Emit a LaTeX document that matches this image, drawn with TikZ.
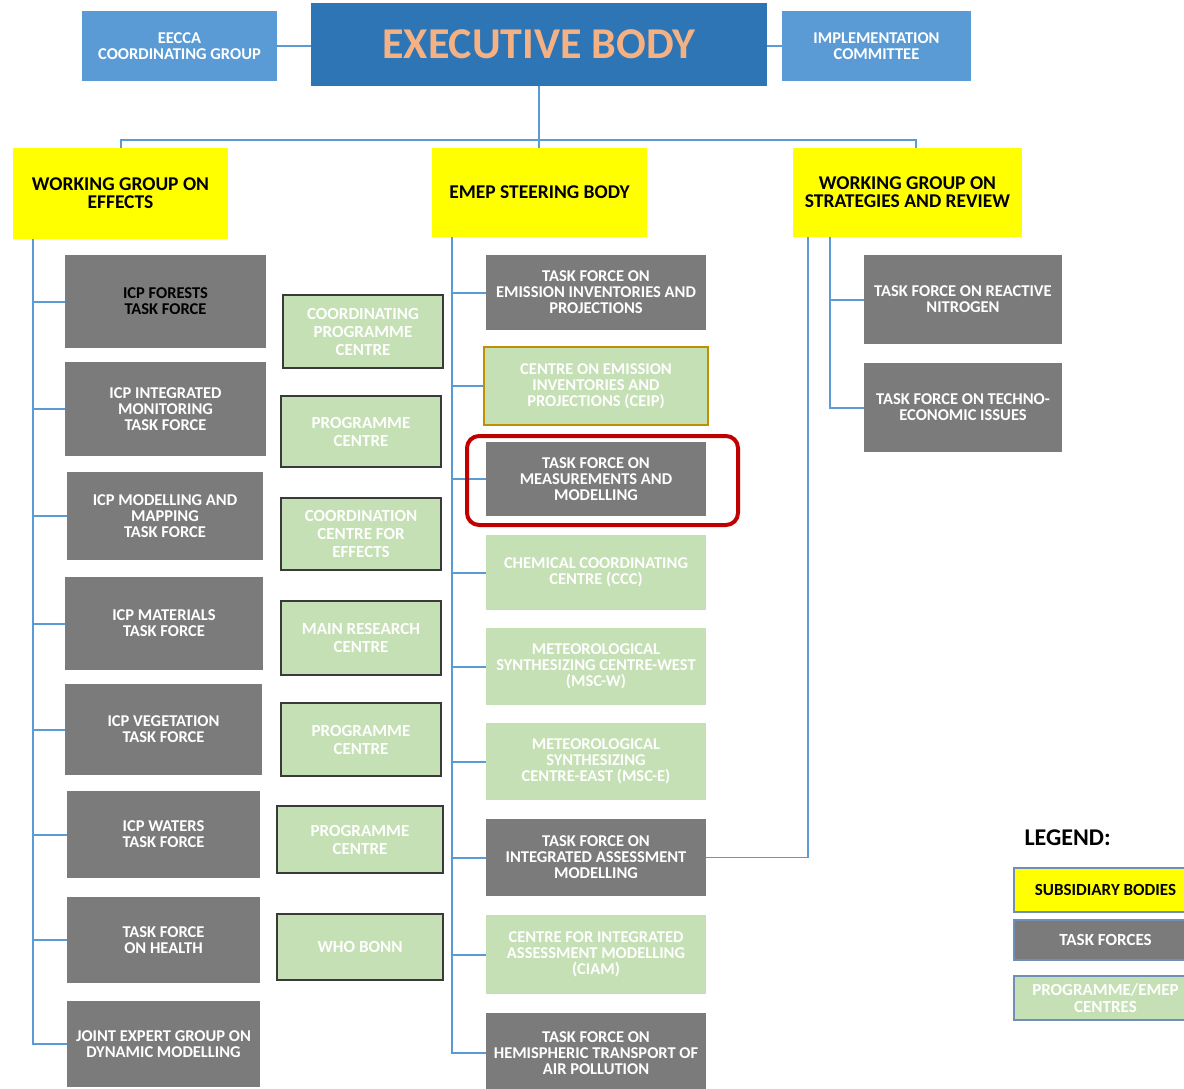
\documentclass[tikz,border=0pt]{standalone}
\usepackage{fontspec}
\setmainfont{Carlito}
\usepackage{tikz}

\definecolor{linkblue}{HTML}{5B9BD5}
\definecolor{lightblue}{HTML}{5B9BD5}
\definecolor{execblue}{HTML}{2E75B6}
\definecolor{execorange}{HTML}{F4B183}
\definecolor{sbyellow}{HTML}{FFFF00}
\definecolor{tfgray}{HTML}{7B7B7B}
\definecolor{pcgreen}{HTML}{C5E0B4}
\definecolor{pcedge}{HTML}{3A3A3A}
\definecolor{ceipedge}{HTML}{BF9000}
\definecolor{hlred}{HTML}{C00000}
\definecolor{legedge}{HTML}{6F8FB8}

\begin{document}
\begin{tikzpicture}[x=1pt, y=-1pt,
    link/.style={draw=linkblue, line width=2pt},
    box/.style={align=center, inner sep=0pt, font=\bfseries\fontsize{16.5}{16}\selectfont},
    top/.style={box, fill=lightblue, text=white},
    sb/.style={box, fill=sbyellow, text=black, font=\bfseries\fontsize{19.5}{18}\selectfont},
    tf/.style={box, fill=tfgray, text=white},
    pc/.style={box, fill=pcgreen, draw=pcedge, line width=1.5pt, text=white, font=\bfseries\fontsize{17}{18}\selectfont},
    ec/.style={box, fill=pcgreen, text=white},
    leg/.style={box, line width=1.5pt, draw=legedge, minimum width=183, font=\bfseries\fontsize{17}{17}\selectfont}]
    \useasboundingbox (0, 0) rectangle (1184, 1089);

    %% top row
    \node[top, minimum width=195, minimum height=70] (eecca) at (179.5, 46) {EECCA\\COORDINATING GROUP};
    \node[box, fill=execblue, text=execorange, minimum width=456, minimum height=83,
          font=\bfseries\fontsize{44}{48}\selectfont] (exec) at (539, 44.5) {EXECUTIVE BODY};
    \node[top, minimum width=189, minimum height=70] (impl) at (876.5, 46) {IMPLEMENTATION\\COMMITTEE};
    \draw[link] (eecca.east) -- (eecca.east -| exec.west);
    \draw[link] (impl.west) -- (impl.west -| exec.east);

    %% subsidiary bodies
    \node[sb, minimum width=215, minimum height=91] (wge) at (120.5, 193.5) {WORKING GROUP ON\\EFFECTS};
    \node[sb, minimum width=215, minimum height=89] (emep) at (539.5, 192.5) {EMEP STEERING BODY};
    \node[sb, minimum width=229, minimum height=89] (wgsr) at (907.5, 192.5) {WORKING GROUP ON\\STRATEGIES AND REVIEW};
    \coordinate (hub) at (539, 140);
    \draw[link] (exec.south) -- (hub);
    \draw[link] (wge.north) |- (hub) -| ([xshift=8pt]wgsr.north);
    \draw[link] (hub) -- (hub |- emep.north);

    %% working group on effects
    \node[tf, text=black, minimum width=201, minimum height=93] (icpf) at (165.5, 301.5) {ICP FORESTS\\TASK FORCE};
    \node[tf, minimum width=201, minimum height=94] (icpim) at (165.5, 409) {ICP INTEGRATED\\MONITORING\\TASK FORCE};
    \node[tf, minimum width=196, minimum height=88] (icpmm) at (165, 516) {ICP MODELLING AND\\MAPPING\\TASK FORCE};
    \node[tf, minimum width=198, minimum height=93] (icpmat) at (164, 623.5) {ICP MATERIALS\\TASK FORCE};
    \node[tf, minimum width=197, minimum height=91] (icpveg) at (163.5, 729.5) {ICP VEGETATION\\TASK FORCE};
    \node[tf, minimum width=193, minimum height=87] (icpw) at (163.5, 834.5) {ICP WATERS\\TASK FORCE};
    \node[tf, minimum width=193, minimum height=86] (tfh) at (163.5, 940) {TASK FORCE\\ON HEALTH};
    \node[tf, minimum width=193, minimum height=86] (jeg) at (163.5, 1044) {JOINT EXPERT GROUP ON\\DYNAMIC MODELLING};
    \coordinate (spL) at ([xshift=20pt]wge.south west);
    \draw[link] (spL) |- (jeg.west);
    \foreach \n in {icpf, icpim, icpmm, icpmat, icpveg, icpw, tfh}
      \draw[link] (spL |- \n.west) -- (\n.west);

    %% programme centres
    \node[pc, minimum width=160, minimum height=73] (cpc) at (363, 331.5) {COORDINATING\\PROGRAMME\\CENTRE};
    \node[pc, minimum width=160, minimum height=71] (pcim) at (361, 431.5) {PROGRAMME\\CENTRE};
    \node[pc, minimum width=160, minimum height=72] (cce) at (361, 534) {COORDINATION\\CENTRE FOR\\EFFECTS};
    \node[pc, minimum width=160, minimum height=74] (mrc) at (361, 638) {MAIN RESEARCH\\CENTRE};
    \node[pc, minimum width=160, minimum height=73] (pcveg) at (361, 739.5) {PROGRAMME\\CENTRE};
    \node[pc, minimum width=166, minimum height=67] (pcw) at (360, 839.5) {PROGRAMME\\CENTRE};
    \node[pc, minimum width=166, minimum height=66] (who) at (360, 947) {WHO BONN};

    %% EMEP
    \node[tf, minimum width=220, minimum height=75] (tfeip) at (596, 292.5) {TASK FORCE ON\\EMISSION INVENTORIES AND\\PROJECTIONS};
    \node[ec, draw=ceipedge, line width=2pt, minimum width=224, minimum height=78] (ceip) at (596, 386) {CENTRE ON EMISSION\\INVENTORIES AND\\PROJECTIONS (CEIP)};
    \node[tf, minimum width=220, minimum height=74] (tfmm) at (596, 479) {TASK FORCE ON\\MEASUREMENTS AND\\MODELLING};
    \node[ec, minimum width=220, minimum height=75] (ccc) at (596, 572.5) {CHEMICAL COORDINATING\\CENTRE (CCC)};
    \node[ec, minimum width=220, minimum height=77] (mscw) at (596, 666.5) {METEOROLOGICAL\\SYNTHESIZING CENTRE-WEST\\(MSC-W)};
    \node[ec, minimum width=220, minimum height=77] (msce) at (596, 761.5) {METEOROLOGICAL\\SYNTHESIZING\\CENTRE-EAST (MSC-E)};
    \node[tf, minimum width=220, minimum height=77] (tfiam) at (596, 857.5) {TASK FORCE ON\\INTEGRATED ASSESSMENT\\MODELLING};
    \node[ec, minimum width=220, minimum height=79] (ciam) at (596, 954.5) {CENTRE FOR INTEGRATED\\ASSESSMENT MODELLING\\(CIAM)};
    \node[tf, minimum width=220, minimum height=80] (tfhtap) at (596, 1053) {TASK FORCE ON\\HEMISPHERIC TRANSPORT OF\\AIR POLLUTION};
    \coordinate (spM) at ([xshift=20pt]emep.south west);
    \draw[link] (spM) |- (tfhtap.west);
    \foreach \n in {tfeip, ceip, tfmm, ccc, mscw, msce, tfiam, ciam}
      \draw[link] (spM |- \n.west) -- (\n.west);
    \node[draw=hlred, line width=4pt, rounded corners=12pt, minimum width=271, minimum height=89] (hl) at (602.5, 480.5) {};

    %% strategies and review
    \node[tf, minimum width=198, minimum height=89] (tfrn) at (963, 299.5) {TASK FORCE ON REACTIVE\\NITROGEN};
    \node[tf, minimum width=198, minimum height=89] (tfte) at (963, 407.5) {TASK FORCE ON TECHNO-\\ECONOMIC ISSUES};
    \coordinate (spR) at ([xshift=37pt]wgsr.south west);
    \draw[link] (spR) |- (tfte.west);
    \draw[link] (spR |- tfrn.west) -- (tfrn.west);
    \draw[link, line width=1.5pt] (tfiam.east) -| ([xshift=15pt]wgsr.south west);

    %% legend
    \node[anchor=west, font=\bfseries\fontsize{24}{28}\selectfont] (legend) at (1021, 838) {LEGEND:};
    \node[leg, fill=sbyellow, minimum height=44] (legsb) at (1105.5, 890) {SUBSIDIARY BODIES};
    \node[leg, fill=tfgray, text=white, minimum height=40] (legtf) at (1105.5, 940) {TASK FORCES};
    \node[leg, fill=pcgreen, text=white, minimum height=44] (legpc) at (1105.5, 998) {PROGRAMME/EMEP\\CENTRES};
\end{tikzpicture}
\end{document}
